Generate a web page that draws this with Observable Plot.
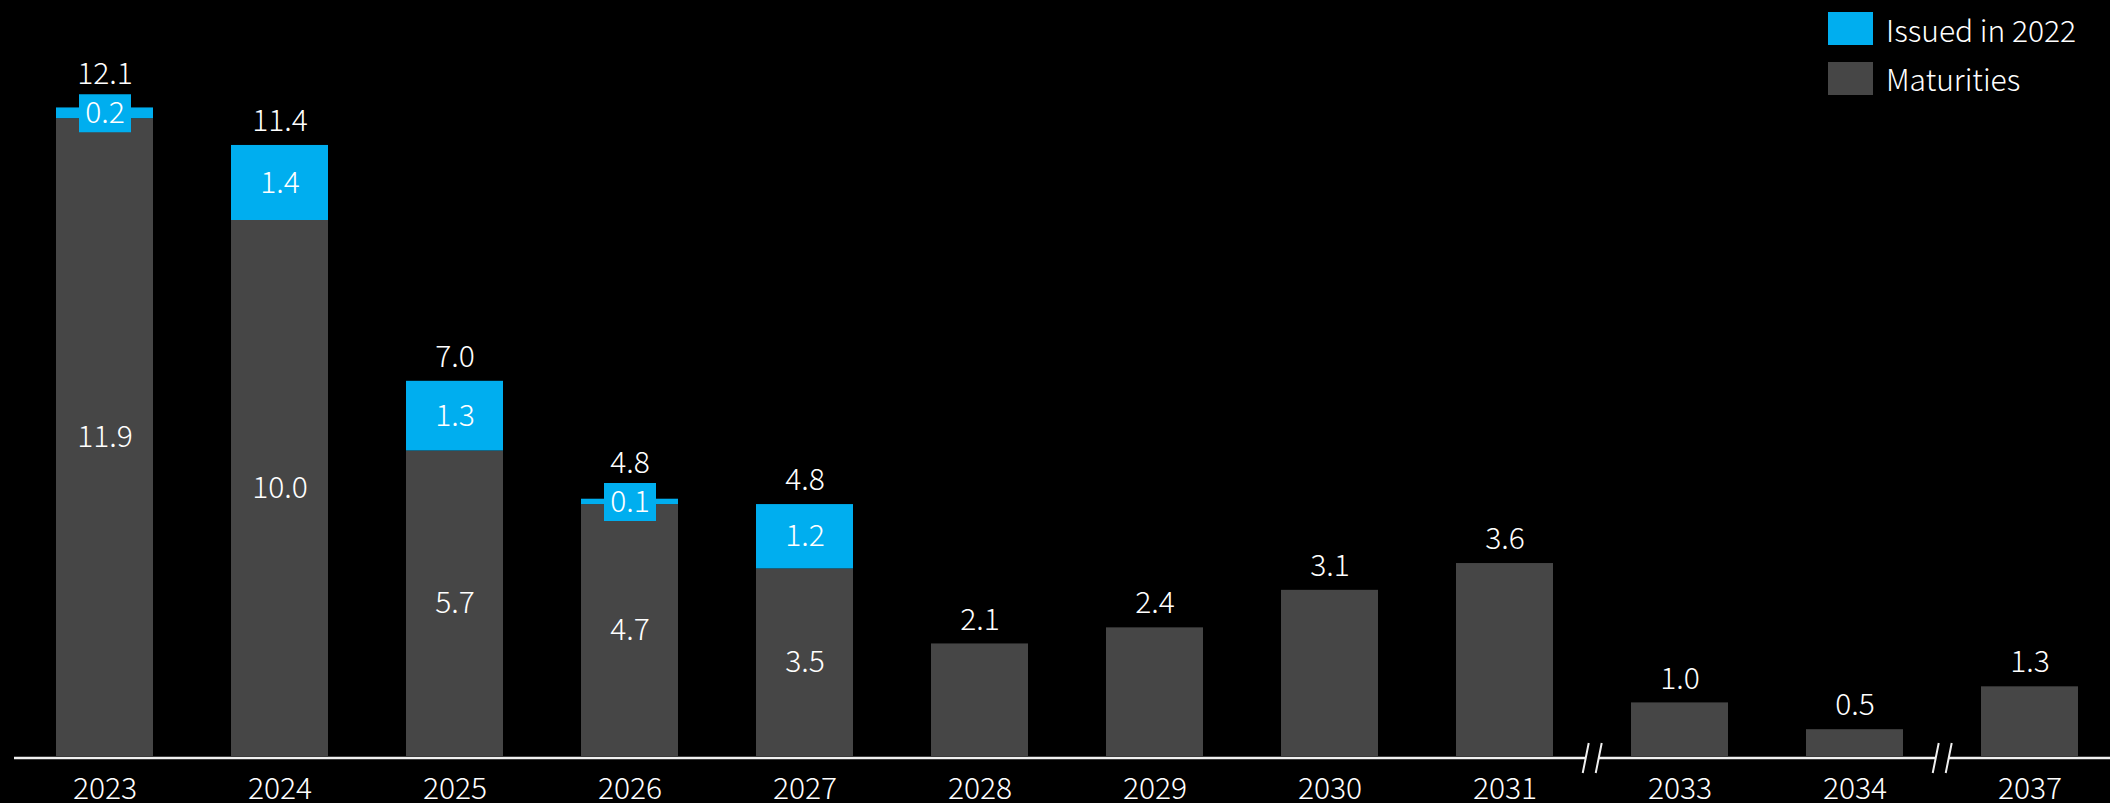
<!DOCTYPE html>
<html>
<head>
<meta charset="utf-8">
<script src="https://cdn.jsdelivr.net/npm/d3@7"></script>
<script src="https://cdn.jsdelivr.net/npm/@observablehq/plot@0.6"></script>
<style>
  html, body { margin: 0; padding: 0; background: #000; }
  #wrap { position: relative; width: 2110px; height: 803px; background: #000; }
  #legend { position: absolute; left: 1828px; top: 12px; font-family: "Noto Sans CJK JP", "Noto Sans", sans-serif; font-weight: 300; font-size: 30px; color: #fff; }
  .item { display: flex; align-items: center; height: 33px; margin-bottom: 16.5px; }
  .sw { width: 45px; height: 33px; margin-right: 13px; }
</style>
</head>
<body>
<div id="wrap"><div id="legend"></div></div>
<script>
// ---- data ----
const years = ["2023","2024","2025","2026","2027","2028","2029","2030","2031","2033","2034","2037"];
const maturities = [11.9, 10.0, 5.7, 4.7, 3.5, 2.1, 2.4, 3.1, 3.6, 1.0, 0.5, 1.3];
const issued2022 = [0.2, 1.4, 1.3, 0.1, 1.2, 0, 0, 0, 0, 0, 0, 0];
const totalLabels = ["12.1", "11.4", "7.0", "4.8", "4.8", "2.1", "2.4", "3.1", "3.6", "1.0", "0.5", "1.3"];
const breaksAfter = ["2031", "2034"];
const seriesNames = ["Issued in 2022", "Maturities"];
const seriesColors = ["#00AEEF", "#464646"];

const rows = years.map((y, i) => ({
  year: y,
  mat: maturities[i],
  iss: issued2022[i],
  top: maturities[i] + issued2022[i],
  total: totalLabels[i]
}));
const withIss = rows.filter(d => d.iss > 0);
const smallIss = withIss.filter(d => d.iss < 0.5);
const normalTotals = rows.filter(d => !(d.iss > 0 && d.iss < 0.5));

const xRange = [53, 2080];
const padIn = 0.447;
const step = (xRange[1] - xRange[0]) / (years.length - padIn);

const font = '"Noto Sans CJK JP", "Noto Sans", sans-serif';
const boxSymbol = { draw(ctx) { ctx.rect(-26, -19, 52, 38); } };
const gapSymbol = { draw(ctx) { ctx.rect(-7, -3, 13, 6); } };
const slashSymbol = { draw(ctx) { ctx.moveTo(-4, -15); ctx.lineTo(-10, 15); ctx.moveTo(9, -15); ctx.lineTo(3, 15); } };

const chart = Plot.plot({
  width: 2110,
  height: 803,
  marginTop: 0,
  marginBottom: 47,
  marginLeft: 0,
  marginRight: 0,
  style: { background: "#000", color: "#fff", fontFamily: font, fontWeight: 300, fontSize: "30px" },
  x: { type: "band", domain: years, range: xRange, paddingInner: padIn, paddingOuter: 0, label: null },
  y: { domain: [0, 756 / 53.6], axis: null },
  marks: [
    Plot.barY(rows, { x: "year", y1: 0, y2: "mat", fill: seriesColors[1] }),
    Plot.barY(withIss, { x: "year", y1: "mat", y2: "top", fill: seriesColors[0] }),
    Plot.ruleY([0], { stroke: "#f0f0f0", strokeWidth: 2.5, dy: 1.5, insetLeft: 14 }),
    Plot.dot(rows.filter(d => breaksAfter.includes(d.year)), { x: "year", y: () => 0, dx: step / 2, dy: 1.5, symbol: gapSymbol, r: 1, fill: "#000", stroke: "none" }),
    Plot.dot(rows.filter(d => breaksAfter.includes(d.year)), { x: "year", y: () => 0, dx: step / 2, dy: 1.5, symbol: slashSymbol, r: 1, fill: "none", stroke: "#f0f0f0", strokeWidth: 2 }),
    Plot.text(withIss, { x: "year", y: d => d.mat / 2, text: d => d.mat.toFixed(1), fill: "#fff", fontSize: 30 }),
    Plot.dot(withIss, { x: "year", y: d => d.mat + d.iss / 2, symbol: boxSymbol, r: 1, fill: seriesColors[0], stroke: "none" }),
    Plot.text(withIss, { x: "year", y: d => d.mat + d.iss / 2, text: d => d.iss.toFixed(1), fill: "#fff", fontSize: 30 }),
    Plot.text(normalTotals, { x: "year", y: "top", text: "total", dy: -24, fill: "#fff", fontSize: 30 }),
    Plot.text(smallIss, { x: "year", y: d => d.mat + d.iss / 2, text: "total", dy: -39, fill: "#fff", fontSize: 30 }),
    Plot.axisX({ tickSize: 0, tickPadding: 21, fontSize: 30, fill: "#fff", label: null })
  ]
});
document.getElementById("wrap").prepend(chart);

const legend = document.getElementById("legend");
seriesNames.forEach((n, i) => {
  const item = document.createElement("div");
  item.className = "item";
  const sw = document.createElement("div");
  sw.className = "sw";
  sw.style.background = seriesColors[i];
  const t = document.createElement("span");
  t.textContent = n;
  item.append(sw, t);
  legend.append(item);
});
</script>
</body>
</html>
